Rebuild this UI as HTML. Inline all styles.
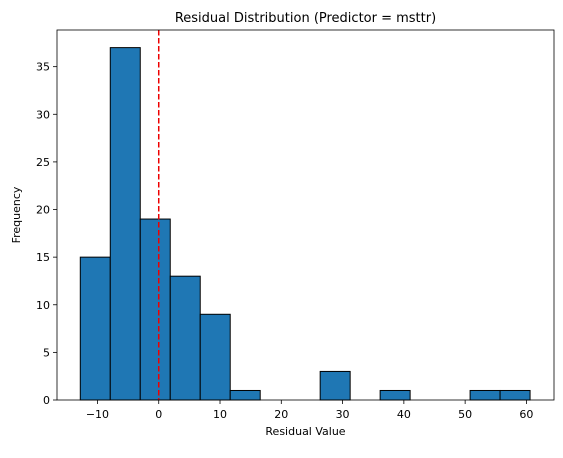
<!DOCTYPE html>
<html><head><meta charset="utf-8"><style>
body{margin:0;background:#fff;font-family:"Liberation Sans","DejaVu Sans",sans-serif}
svg text{font-family:"DejaVu Sans","Liberation Sans",sans-serif}
</style></head><body>
<svg id="chart" width="563" height="453" xmlns="http://www.w3.org/2000/svg"></svg>
<script>
const binStart = -12.8;
const binWidth = 4.893;
const counts = [15,37,19,13,9,1,0,0,3,0,1,0,0,1,1];
const xTicks = [-10,0,10,20,30,40,50,60];
const yTicks = [0,5,10,15,20,25,30,35];
const refLine = 0;

const L=57,R=554,T=30,B=400;
const xMin=-16.6,xMax=64.5,yMax=38.85;
const X=v=>L+(v-xMin)/(xMax-xMin)*(R-L);
const Y=v=>B-v/yMax*(B-T);
const svg=document.getElementById('chart');
const NS='http://www.w3.org/2000/svg';
function mk(tag,attrs,parent){const e=document.createElementNS(NS,tag);for(const k in attrs)e.setAttribute(k,attrs[k]);(parent||svg).appendChild(e);return e;}

counts.forEach((c,i)=>{
  if(c<=0)return;
  const x0=X(binStart+i*binWidth),x1=X(binStart+(i+1)*binWidth);
  const r=mk('rect',{x:x0,y:Y(c),width:x1-x0,height:B-Y(c),fill:'#1f77b4',stroke:'#000','stroke-width':1});
  
  
});
const rl=mk('line',{x1:X(refLine),x2:X(refLine),y1:T,y2:B,stroke:'#e00',"stroke-width":1.5,"stroke-dasharray":"5.5,2.5"});



const frame=mk('rect',{x:L,y:T,width:R-L,height:B-T,fill:'none',stroke:'#000','stroke-width':0.8});



xTicks.forEach(t=>{
  const x=X(t);
  mk('line',{x1:x,x2:x,y1:B,y2:B+4,stroke:'#000','stroke-width':0.8});
  const tx=mk('text',{x:x,y:B+18,'font-size':11,'text-anchor':'middle'});
  tx.textContent=t<0?'\u2212'+(-t):t;
  
  
});
yTicks.forEach(t=>{
  const y=Y(t);
  mk('line',{x1:L-4,x2:L,y1:y,y2:y,stroke:'#000','stroke-width':0.8});
  const tx=mk('text',{x:L-7,y:y+4,'font-size':11,'text-anchor':'end'});
  tx.textContent=t;
  
  
});
const title=mk('text',{x:(L+R)/2,y:T-8,'font-size':13,'text-anchor':'middle'});
title.textContent='Residual Distribution (Predictor = msttr)';


const xl=mk('text',{x:(L+R)/2,y:B+35,'font-size':11,'text-anchor':'middle'});
xl.textContent='Residual Value';


const yl=mk('text',{x:0,y:0,'font-size':11,'text-anchor':'middle',transform:`translate(20,${(T+B)/2}) rotate(-90)`});
yl.textContent='Frequency';


</script>
</body></html>
